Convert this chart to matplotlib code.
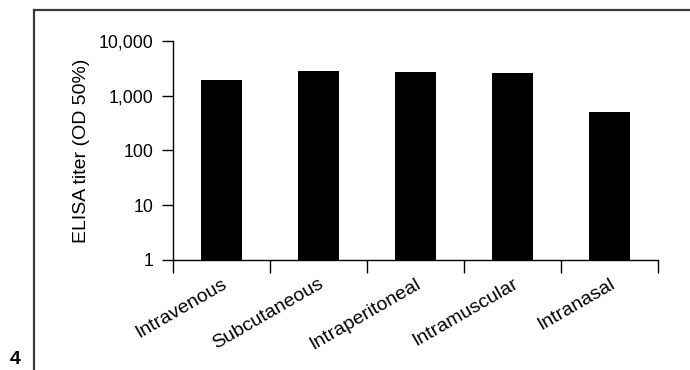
import matplotlib
matplotlib.use('Agg')
import matplotlib.pyplot as plt
from matplotlib.lines import Line2D
import numpy as np

plt.rcParams['font.family'] = ['Liberation Sans', 'DejaVu Sans']

# vias de imunização e titulo ELISA
rotas = ['Intravenous', 'Subcutaneous', 'Intraperitoneal', 'Intramuscular', 'Intranasal']
titulo = [1930, 2850, 2660, 2550, 495]
yticks = [1, 10, 100, 1000, 10000]
ytick_labels = ['1', '10', '100', '1,000', '10,000']

fig = plt.figure(figsize=(6.9, 3.7), dpi=100)
ax = fig.add_axes([0.2507, 0.2973, 0.7029, 0.5919])

x = np.arange(len(rotas))
ax.bar(x, titulo, width=0.42, color='black', bottom=0)

ax.set_yscale('log')
ax.set_ylim(1, 10000)
ax.set_xlim(-0.5, len(rotas) - 0.5)
ax.set_yticks(yticks)
ax.set_yticklabels(ytick_labels)
ax.minorticks_off()

# ticks nas divisas entre as barras
ax.set_xticks(x)
ax.set_xticklabels(rotas, rotation=30, ha='right', va='top', rotation_mode='anchor')
ax.set_xticks(np.arange(len(rotas) + 1) - 0.5, minor=True)
ax.tick_params(axis='x', which='major', length=0, pad=11, labelsize=14)
ax.tick_params(axis='x', which='minor', length=9, width=1, direction='out')
ax.tick_params(axis='y', length=8, width=1, pad=6, labelsize=12.7)

ax.set_ylabel('ELISA titer (OD 50%)', fontsize=14, labelpad=6)

ax.spines['top'].set_visible(False)
ax.spines['right'].set_visible(False)
ax.spines['left'].set_linewidth(1)
ax.spines['bottom'].set_linewidth(1)

# moldura da figura
fig.add_artist(Line2D([0.049, 0.049], [0, 0.973], color='#3a3a3a', lw=1.6))
fig.add_artist(Line2D([0.049, 1], [0.973, 0.973], color='#3a3a3a', lw=1.6))
fig.text(0.014, 0.006, '4', fontsize=14, fontweight='bold', ha='left', va='bottom')

plt.savefig('out.png', dpi=100)
